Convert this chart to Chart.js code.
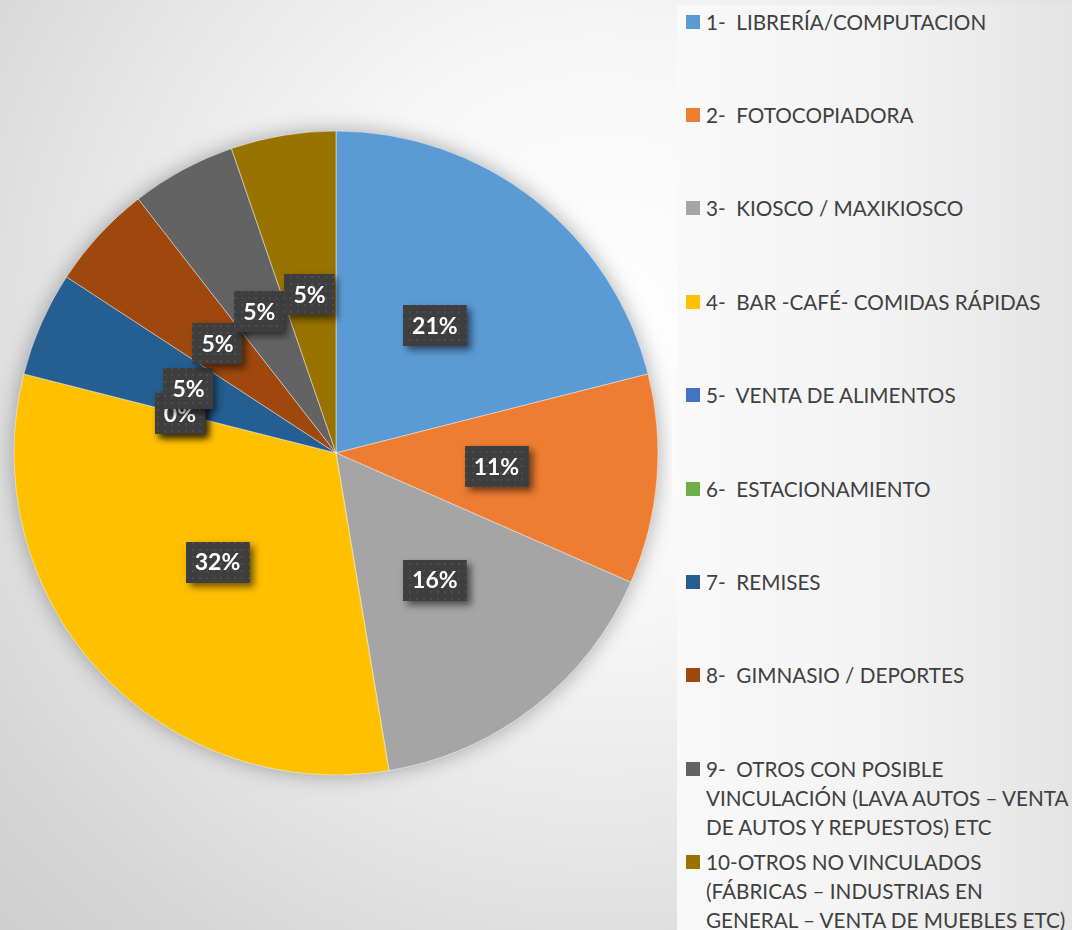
<!DOCTYPE html>
<html><head><meta charset="utf-8">
<script src="https://cdn.jsdelivr.net/npm/chart.js@4"></script>
<style>
html,body{margin:0;padding:0;}
body{width:1072px;height:930px;position:relative;overflow:hidden;
 background:radial-gradient(circle at 600px 330px,#ffffff 0px,#f7f7f7 280px,#e6e6e6 520px,#d6d6d6 720px,#c8c8c8 960px);}
#wrap{position:absolute;left:0;top:0;width:672px;height:906px;}
#legend{position:absolute;left:677px;top:5px;width:395px;height:925px;
 background:linear-gradient(to right,#f9f9f9 0%,#f3f3f3 50%,#e4e4e4 100%);}
.item{position:absolute;left:9px;width:386px;font-family:Lato,"Open Sans",sans-serif;font-size:20.7px;line-height:29px;color:#404040;white-space:pre;}
.sw{position:absolute;left:0;top:7px;width:14px;height:14px;}
.tx{position:absolute;left:20px;top:0;width:366px;}
</style></head>
<body>
<div id="wrap"><canvas id="c"></canvas></div>
<div id="legend"></div>
<script>
const categories = [
 "1-  LIBRERÍA/COMPUTACION",
 "2-  FOTOCOPIADORA",
 "3-  KIOSCO / MAXIKIOSCO",
 "4-  BAR -CAFÉ- COMIDAS RÁPIDAS",
 "5-  VENTA DE ALIMENTOS",
 "6-  ESTACIONAMIENTO",
 "7-  REMISES",
 "8-  GIMNASIO / DEPORTES",
 "9-  OTROS CON POSIBLE\nVINCULACIÓN (LAVA AUTOS – VENTA\nDE AUTOS Y REPUESTOS) ETC",
 "10-OTROS NO VINCULADOS\n(FÁBRICAS – INDUSTRIAS EN\nGENERAL – VENTA DE MUEBLES ETC)"
];
const counts = [4, 2, 3, 6, 0, 0, 1, 1, 1, 1];
const colors = ["#5B9BD5","#ED7D31","#A5A5A5","#FFC000","#4472C4","#70AD47","#255E91","#9E480E","#636363","#997300"];

const total = counts.reduce((a,b)=>a+b,0);
const pctLabels = counts.map(v => Math.round(v/total*100) + '%');

// legend
const leg = document.getElementById('legend');
categories.forEach((t,i)=>{
  const d = document.createElement('div');
  d.className='item';
  d.style.top = (22 + 93.4*i - 14.5 - 5) + 'px';
  const s = document.createElement('div'); s.className='sw'; s.style.background=colors[i];
  const x = document.createElement('div'); x.className='tx'; x.textContent=t;
  d.appendChild(s); d.appendChild(x); leg.appendChild(d);
});

// pattern for labels
const pc = document.createElement('canvas'); pc.width=7; pc.height=7;
const pctx = pc.getContext('2d');
pctx.fillStyle='#3e3e3e'; pctx.fillRect(0,0,7,7);
pctx.fillStyle='#4d4d4d'; pctx.fillRect(3,3,2,2);

const shadowPlugin = {
  id:'pieShadow',
  beforeDatasetsDraw(chart){
    const arc = chart.getDatasetMeta(0).data[0];
    if(!arc) return;
    const ctx = chart.ctx;
    ctx.save();
    ctx.shadowColor='rgba(0,0,0,0.35)';
    ctx.shadowBlur=22;
    ctx.beginPath();
    ctx.arc(arc.x, arc.y, arc.outerRadius-1, 0, Math.PI*2);
    ctx.fillStyle='#999';
    ctx.fill();
    ctx.restore();
  }
};

const labelPlugin = {
  id:'pctLabels',
  afterDatasetsDraw(chart){
    const ctx = chart.ctx;
    const pattern = ctx.createPattern(pc,'repeat');
    const meta = chart.getDatasetMeta(0);
    ctx.save();
    ctx.font = 'bold 23px Lato, "Open Sans", sans-serif';
    meta.data.forEach((el,i)=>{
      const p = el.tooltipPosition();
      const txt = pctLabels[i];
      const w = ctx.measureText(txt).width + 18;
      const h = 41;
      const x0 = Math.round(p.x - w/2), y0 = Math.round(p.y - h/2);
      ctx.save();
      ctx.shadowColor='rgba(0,0,0,0.55)';
      ctx.shadowBlur=7; ctx.shadowOffsetX=4; ctx.shadowOffsetY=4;
      ctx.fillStyle='#3e3e3e';
      ctx.fillRect(x0,y0,w,h);
      ctx.restore();
      ctx.fillStyle=pattern;
      ctx.fillRect(x0,y0,w,h);
      ctx.fillStyle='#ffffff';
      ctx.textAlign='center'; ctx.textBaseline='middle';
      ctx.fillText(txt, p.x, p.y+1);
    });
    ctx.restore();
  }
};

new Chart(document.getElementById('c'), {
  type:'pie',
  data:{ labels:categories, datasets:[{ data:counts, backgroundColor:colors,
    borderColor:'rgba(255,255,255,0.45)', borderWidth:1, radius:322 }]},
  options:{
    responsive:true, maintainAspectRatio:false, animation:false,
    layout:{padding:0},
    plugins:{legend:{display:false}, tooltip:{enabled:false}}
  },
  plugins:[shadowPlugin,labelPlugin]
});
</script>
</body></html>
